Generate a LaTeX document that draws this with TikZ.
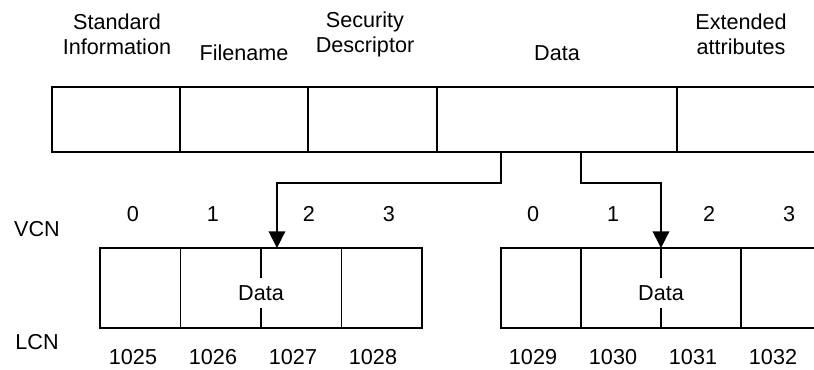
\documentclass[tikz,border=0pt]{standalone}
\usepackage{fontspec}
\setmainfont{Liberation Sans}
\usetikzlibrary{arrows.meta}
\tikzstyle{cell} = [draw, line width=0.8pt, inner sep=0pt, outer sep=0pt, anchor=north west]
\tikzstyle{attr} = [cell, minimum height=1.3cm]
\tikzstyle{clu} = [cell, minimum width=1.61cm, minimum height=1.6cm]
\tikzstyle{lbl} = [font=\fontsize{12.3}{14.2}\selectfont, align=center]
\tikzstyle{arrow} = [line width=0.8pt, -{Triangle[length=9.5pt, width=9.5pt]}]

\begin{document}
\begin{tikzpicture}[x=0.02cm, y=-0.02cm]
	\clip (0,0) rectangle (814,369);
	\node[attr, minimum width=2.56cm] (si) at (52,87) {};
	\node[attr, minimum width=2.56cm] (fn) at (si.north east) {};
	\node[attr, minimum width=2.58cm] (sd) at (fn.north east) {};
	\node[attr, minimum width=4.8cm] (da) at (sd.north east) {};
	\node[attr, minimum width=3.2cm] (ea) at (da.north east) {};
	\node[lbl] (lsi) at (117,34) {Standard\\Information};
	\node[lbl] (lfn) at (244,53) {Filename};
	\node[lbl] (lsd) at (365,34) {Security\\Descriptor};
	\node[lbl] (lda) at (557,53) {Data};
	\node[lbl] (lea) at (741,34) {Extended\\attributes};

	\node[clu] (a0) at (100,248) {};
	\node[clu] (a1) at (a0.north east) {};
	\node[clu] (a2) at (a1.north east) {};
	\node[clu] (a3) at (a2.north east) {};
	\node[clu, minimum width=1.6cm] (b0) at (501,248) {};
	\node[clu, minimum width=1.6cm] (b1) at (b0.north east) {};
	\node[clu, minimum width=1.6cm] (b2) at (b1.north east) {};
	\node[clu, minimum width=1.6cm] (b3) at (b2.north east) {};
	\node[lbl, fill=white, inner xsep=1pt, inner ysep=4pt] (ada) at ([yshift=-0.1cm]a1.east) {Data};
	\node[lbl, fill=white, inner xsep=1pt, inner ysep=4pt] (bda) at ([yshift=-0.1cm]b1.east) {Data};

	\node[lbl] (vcn) at (37,229) {VCN};
	\node[lbl] (lcn) at (37,342) {LCN};
	\foreach \x/\n in {133/0, 213/1, 309/2, 389/3}
		\node[lbl] (va\n) at (\x,214) {\n};
	\foreach \x/\n in {533/0, 613/1, 709/2, 789/3}
		\node[lbl] (vb\n) at (\x,214) {\n};
	\foreach \x/\n in {133/1025, 213/1026, 293/1027, 373/1028, 533/1029, 613/1030, 693/1031, 773/1032}
		\node[lbl] (l\n) at (\x,357) {\n};

	\coordinate (tapA) at ([xshift=1.28cm]da.south west);
	\coordinate (tapB) at ([xshift=2.88cm]da.south west);
	\coordinate (hitA) at ([xshift=0.32cm]a2.north west);
	\draw[arrow] (tapA) -- ++(0,31) -| (hitA);
	\draw[arrow] (tapB) -- ++(0,31) -| (b2.north west);
\end{tikzpicture}
\end{document}
